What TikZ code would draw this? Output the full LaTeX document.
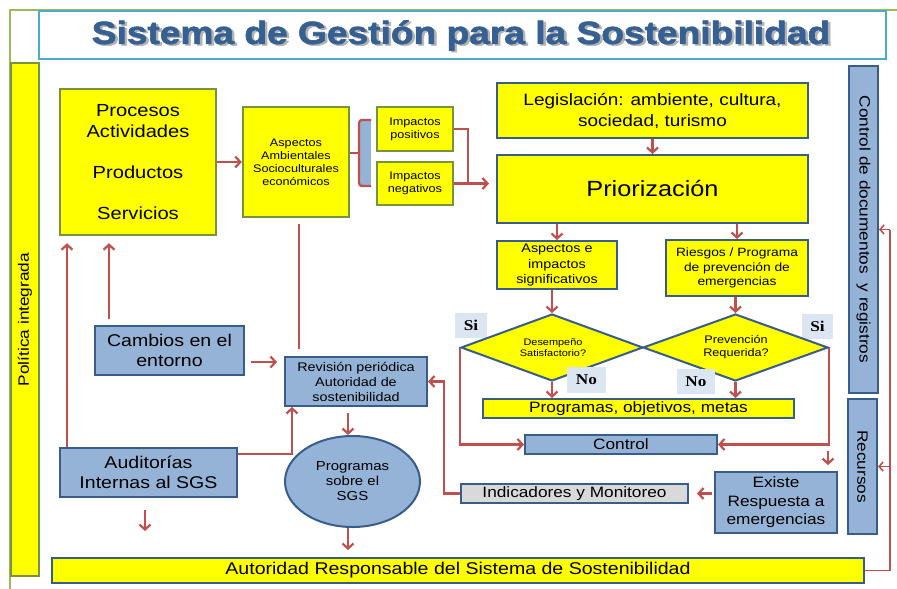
\documentclass[tikz,border=0pt]{standalone}
\usepackage{fontspec}
\setmainfont{Liberation Sans}[FakeStretch=1.15]
\newfontfamily\sib{Liberation Serif}[FakeStretch=1.15]
\newfontfamily\titlefont{Liberation Sans}[FakeStretch=1.16, BoldFeatures={FakeBold=2}]
\usetikzlibrary{arrows.meta,shapes.geometric}
\definecolor{yel}{HTML}{FFFF00}
\definecolor{olv}{HTML}{77933C}
\definecolor{bdr}{HTML}{385D8A}
\definecolor{lbl}{HTML}{95B3D7}
\definecolor{rd}{HTML}{C0504D}
\definecolor{labc}{HTML}{DCE6F2}
\definecolor{gry}{HTML}{D9D9D9}
\definecolor{ttlb}{HTML}{4BACC6}
\definecolor{grn}{HTML}{9BBB59}
\definecolor{ttlt}{HTML}{366092}
\newcommand\fz[2]{\fontsize{#1}{#2}\selectfont}
\begin{document}
\begin{tikzpicture}[x=1pt,y=-1pt,
  box/.style={rectangle, inner sep=0pt, align=center, line width=2pt},
  ybox/.style={box, fill=yel, draw=olv, line width=2.5pt},
  ybbox/.style={box, fill=yel, draw=bdr},
  bbox/.style={box, fill=lbl, draw=bdr},
  lab/.style={box, fill=labc, font=\sib\bfseries\fz{15}{15}},
  dia/.style={diamond, draw=bdr, fill=yel, line width=2pt, inner sep=0pt},
  ln/.style={draw=rd, line width=2.2pt},
  arr/.style={ln, -{Straight Barb[length=5pt,width=11pt]}},
  tarr/.style={draw=rd, line width=1.6pt, -{Straight Barb[length=4pt,width=9pt]}},
]
\useasboundingbox (0,0) rectangle (897,589);
\fill[white] (0,0) rectangle (897,589);
% frame
\draw[grn, line width=1.5pt] (10,589) -- (10,10) -- (897,10);
% title
\node[box, draw=ttlb, fill=white, minimum width=847, minimum height=48, anchor=north west] (tbox) at (38,10) {};
\node[font=\titlefont\bfseries\fz{32}{36}, text=black!30] (tshadow) at (463.5,37) {Sistema de Gestión para la Sostenibilidad};
\node[font=\titlefont\bfseries\fz{32}{36}, text=ttlt] (title) at (461,35.5) {Sistema de Gestión para la Sostenibilidad};
% left bar
\node[ybox, rotate=90, minimum width=513, minimum height=28, font=\fz{15}{15}] (pol) at (25,319.5) {Política integrada};
% top-left
\node[ybox, minimum width=156, minimum height=146, font=\fz{17.5}{20.5}] (proc) at (138,162) {Procesos\\Actividades\\[20.5pt]Productos\\[20.5pt]Servicios};
\node[ybox, minimum width=106, minimum height=110, font=\fz{11}{13}] (asp) at (296,162) {Aspectos\\Ambientales\\Socioculturales\\económicos};
\node[ybox, minimum width=76, minimum height=44, font=\fz{11}{13}] (pos) at (415,129) {Impactos\\positivos};
\node[ybox, minimum width=76, minimum height=43, font=\fz{11}{13}] (neg) at (415,183.5) {Impactos\\negativos};
% bracket
\fill[lbl] (360,119) rectangle (371,187);
\draw[ln, rounded corners=3pt] (371,120) -- (359,120) -- (359,186) -- (371,186);
\draw[ln] (asp.east |- 0,153) -- (359,153);
\draw[arr] (proc.east) -- (asp.west);
% right flow
\node[ybbox, minimum width=311, minimum height=55, font=\fz{16.5}{21}] (leg) at (652.5,110.5) {Legislación: ambiente, cultura,\\sociedad, turismo};
\node[ybbox, minimum width=311, minimum height=68, font=\fz{22}{24}] (prio) at (652.5,189) {Priorización};
\coordinate (jx) at (468,129);
\draw[ln] (pos.east) -- (jx) -- (jx |- neg.east);
\draw[arr, shorten >=7pt] (neg.east) -- (prio.west |- neg.east);
\draw[arr] (leg.south) -- (prio.north);
\node[ybbox, minimum width=120, minimum height=48, font=\fz{12.5}{15.5}] (aspe) at (557,265) {Aspectos e\\impactos\\significativos};
\node[ybbox, minimum width=142, minimum height=56, font=\fz{12}{14.5}] (ries) at (737,268) {Riesgos / Programa\\de prevención de\\emergencias};
\draw[arr] (aspe.north |- prio.south) -- (aspe.north);
\draw[arr] (ries.north |- prio.south) -- (ries.north);
% diamonds
\node[lab, minimum width=32, minimum height=25] (si1) at (471,325.5) {Si};
\node[lab, minimum width=31, minimum height=25] (si2) at (817.5,326.5) {Si};
\node[dia, minimum width=182, minimum height=67] (d1) at (552,347.5) {};
\node[dia, minimum width=185, minimum height=67] (d2) at (735.5,347.5) {};
\node[align=center, inner sep=0pt, font=\fz{9.5}{11}] (d1t) at (553,348) {Desempeño\\Satisfactorio?};
\node[align=center, inner sep=0pt, font=\fz{11}{12.5}] (d2t) at (736,347) {Prevención\\Requerida?};
\node[lab, minimum width=39, minimum height=26] (no1) at (586.5,380) {No};
\node[lab, minimum width=38, minimum height=25] (no2) at (696,381.5) {No};
\draw[arr] (aspe.south -| d1.north) -- (d1.north);
\draw[arr] (ries.south -| d2.north) -- (d2.north);
\node[ybbox, minimum width=311, minimum height=19, font=\fz{15}{15}] (prog) at (638.5,408.5) {Programas, objetivos, metas};
\draw[arr] (d1.south) -- (d1.south |- prog.north);
\draw[arr] (d2.south) -- (d2.south |- prog.north);
\node[bbox, minimum width=192, minimum height=19, font=\fz{15}{15}] (ctrl) at (621,444.5) {Control};
\draw[arr] (d1.west) -- (d1.west |- ctrl.west) -- (ctrl.west);
\draw[arr] (d2.east) -- (d2.east |- ctrl.east) -- (ctrl.east);
\node[bbox, minimum width=122, minimum height=61, font=\fz{15}{18.5}] (exis) at (776,502.5) {Existe\\Respuesta a\\emergencias};
\coordinate (stubA) at (828,451);
\draw[arr, shorten >=6pt] (stubA) -- (stubA |- exis.north);
\node[box, fill=gry, draw=bdr, minimum width=227, minimum height=19, font=\fz{15}{15}] (ind) at (574.5,493.5) {Indicadores y Monitoreo};
\draw[arr, shorten <=2pt, shorten >=8pt] (exis.west |- ind.east) -- (ind.east);
% left-bottom
\node[bbox, minimum width=142, minimum height=49, font=\fz{12.5}{15}] (rev) at (356,381.5) {Revisión periódica\\Autoridad de\\sostenibilidad};
\coordinate (ix) at (444,0);
\draw[arr] (ind.west) -- (ind.west -| ix) |- (rev.east);
\coordinate (lx) at (299,0);
\draw[ln, shorten <=6pt, shorten >=7pt] (asp.south -| lx) -- (rev.north -| lx);
\node[bbox, minimum width=149, minimum height=49, font=\fz{17}{19.5}] (camb) at (169.5,350.5) {Cambios en el\\entorno};
\coordinate (cy) at (0,362);
\draw[arr, shorten <=6pt, shorten >=7pt] (camb.east |- cy) -- (rev.west |- cy);
\node[bbox, minimum width=177, minimum height=49, font=\fz{17}{20}] (aud) at (148.5,472.5) {Auditorías\\Internas al SGS};
\coordinate (ax1) at (67,0);
\coordinate (ax2) at (109,0);
\draw[arr, shorten >=7pt] (aud.north -| ax1) -- (proc.south -| ax1);
\draw[arr, shorten <=6pt, shorten >=7pt] (camb.north -| ax2) -- (proc.south -| ax2);
\coordinate (ay) at (292,454);
\draw[arr] (aud.east |- ay) -- (ay) -- (ay |- rev.south);
\coordinate (stubB) at (145,531);
\draw[arr, shorten <=12pt] (aud.south -| stubB) -- (stubB);
\node[ellipse, draw=bdr, fill=lbl, line width=2pt, inner sep=0pt, minimum width=135, minimum height=91, align=center, font=\fz{13}{15}] (ell) at (352.5,481.5) {Programas\\sobre el\\SGS};
\coordinate (ex) at (348,0);
\draw[arr, shorten <=6pt] (rev.south -| ex) -- (ell.north -| ex);
\node[ybbox, minimum width=812, minimum height=25, font=\fz{17}{17}] (auto) at (458,570.5) {Autoridad Responsable del Sistema de Sostenibilidad};
\draw[arr, shorten >=7pt] (ell.south -| ex) -- (auto.north -| ex);
% right bars
\node[bbox, rotate=-90, minimum width=327, minimum height=29, font=\fz{15}{15}] (cdoc) at (863.5,229.5) {Control de documentos~ y registros};
\node[bbox, rotate=-90, minimum width=135, minimum height=29, font=\fz{15}{15}] (recu) at (862.5,466.5) {Recursos};
\coordinate (rtop) at (890,229.5);
\draw[draw=rd, line width=1.6pt] (auto.east) -| (rtop);
\draw[tarr] (rtop) -- (cdoc.north);
\draw[tarr] (recu.north -| rtop) -- (recu.north);
\end{tikzpicture}
\end{document}
